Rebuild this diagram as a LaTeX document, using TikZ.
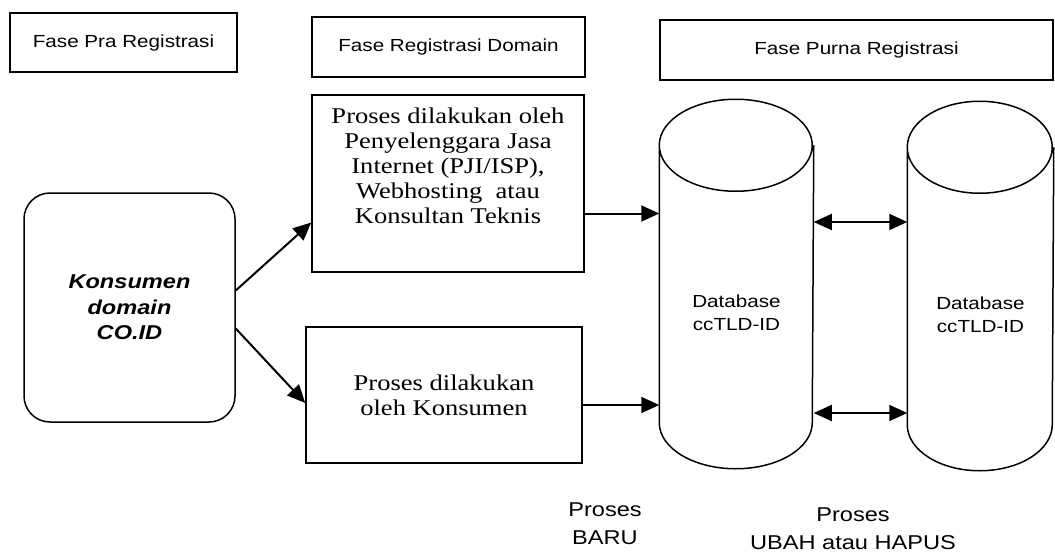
\documentclass[tikz,border=0pt]{standalone}
\usepackage{fontspec}
\usepackage{tikz}
\usetikzlibrary{arrows.meta}
\newfontfamily\arialx{Liberation Sans}[FakeStretch=1.18]
\newfontfamily\timesx{Liberation Serif}[FakeStretch=1.18]

\begin{document}
\begin{tikzpicture}[x=1pt,y=-1pt,>={Triangle[length=18pt,width=16pt]},
                    line width=1.5pt]
  \tikzstyle{phase}=[draw=black,text=black,font=\arialx\fontsize{17.5}{21}\selectfont]
  \tikzstyle{proc}=[draw=black,align=center,font=\timesx\fontsize{22.5}{25}\selectfont]
  \tikzstyle{db}=[minimum height=276pt,text height=94pt,
                  align=center,font=\arialx\fontsize{17.5}{23}\selectfont]
  \tikzstyle{note}=[align=center,font=\arialx\fontsize{20}{28}\selectfont]
  \useasboundingbox (0,0) rectangle (1055,554);

  \node[phase,minimum width=227pt,minimum height=59pt] (PRA) at (123.5,42.5) {Fase Pra Registrasi};
  \node[phase,minimum width=273pt,minimum height=60pt] (REG) at (448.5,47) {Fase Registrasi Domain};
  \node[phase,minimum width=393pt,minimum height=60pt] (PURNA) at (856.5,50) {Fase Purna Registrasi};

  \node[draw,rounded corners=26pt,minimum width=211pt,minimum height=229pt,align=center,
        font=\arialx\bfseries\itshape\fontsize{20}{25.5}\selectfont] (KON) at (129.5,307.5)
  {Konsumen\\domain\\CO.ID};

  \node[proc,minimum width=272pt,minimum height=177pt,text depth=36pt] (PJI) at (448,183.5)
  {Proses dilakukan oleh\\Penyelenggara Jasa\\Internet (PJI/ISP),\\Webhosting\ \ atau\\Konsultan Teknis};
  \node[proc,minimum width=276pt,minimum height=136pt] (KS) at (444,395)
  {Proses dilakukan\\oleh Konsumen};

  % database cylinders: node is the body between the two ellipse centres
  \node[db,minimum width=153pt] (DB1) at (736.5,284) {Database\\ccTLD-ID};
  \node[db,minimum width=145pt] (DB2) at (980.5,286) {Database\\ccTLD-ID};
  \foreach \n/\r in {DB1/76.5,DB2/72.5}
    \draw (\n.north west) arc[start angle=180,end angle=-180,x radius=\r pt,y radius=46pt]
          (\n.north west) -- (\n.south west)
          arc[start angle=180,end angle=360,x radius=\r pt,y radius=46pt] -- (\n.north east);

  \node[note] (BARU) at (605,524) {Proses\\BARU};
  \node[note] (UBAH) at (853,529) {Proses\\UBAH atau HAPUS};

  \begin{scope}[line width=2pt]
  \path (KON.east) ++(0,-17) coordinate (k1) (KON.east) ++(0,21) coordinate (k2);
  \path[->] (k1) edge ([yshift=-39pt]PJI.west)
            (k2) edge ([yshift=-8pt]KS.west)
            ([yshift=-30pt]PJI.east) edge ([yshift=-30pt]PJI.east -| DB1.west)
            ([yshift=-10pt]KS.east) edge ([yshift=-10pt]KS.east -| DB1.west);
  \path[<->] (DB1.east |- 0,222) edge (DB2.west |- 0,222)
             (DB1.east |- 0,413) edge (DB2.west |- 0,413);
  \end{scope}

\end{tikzpicture}
\end{document}
